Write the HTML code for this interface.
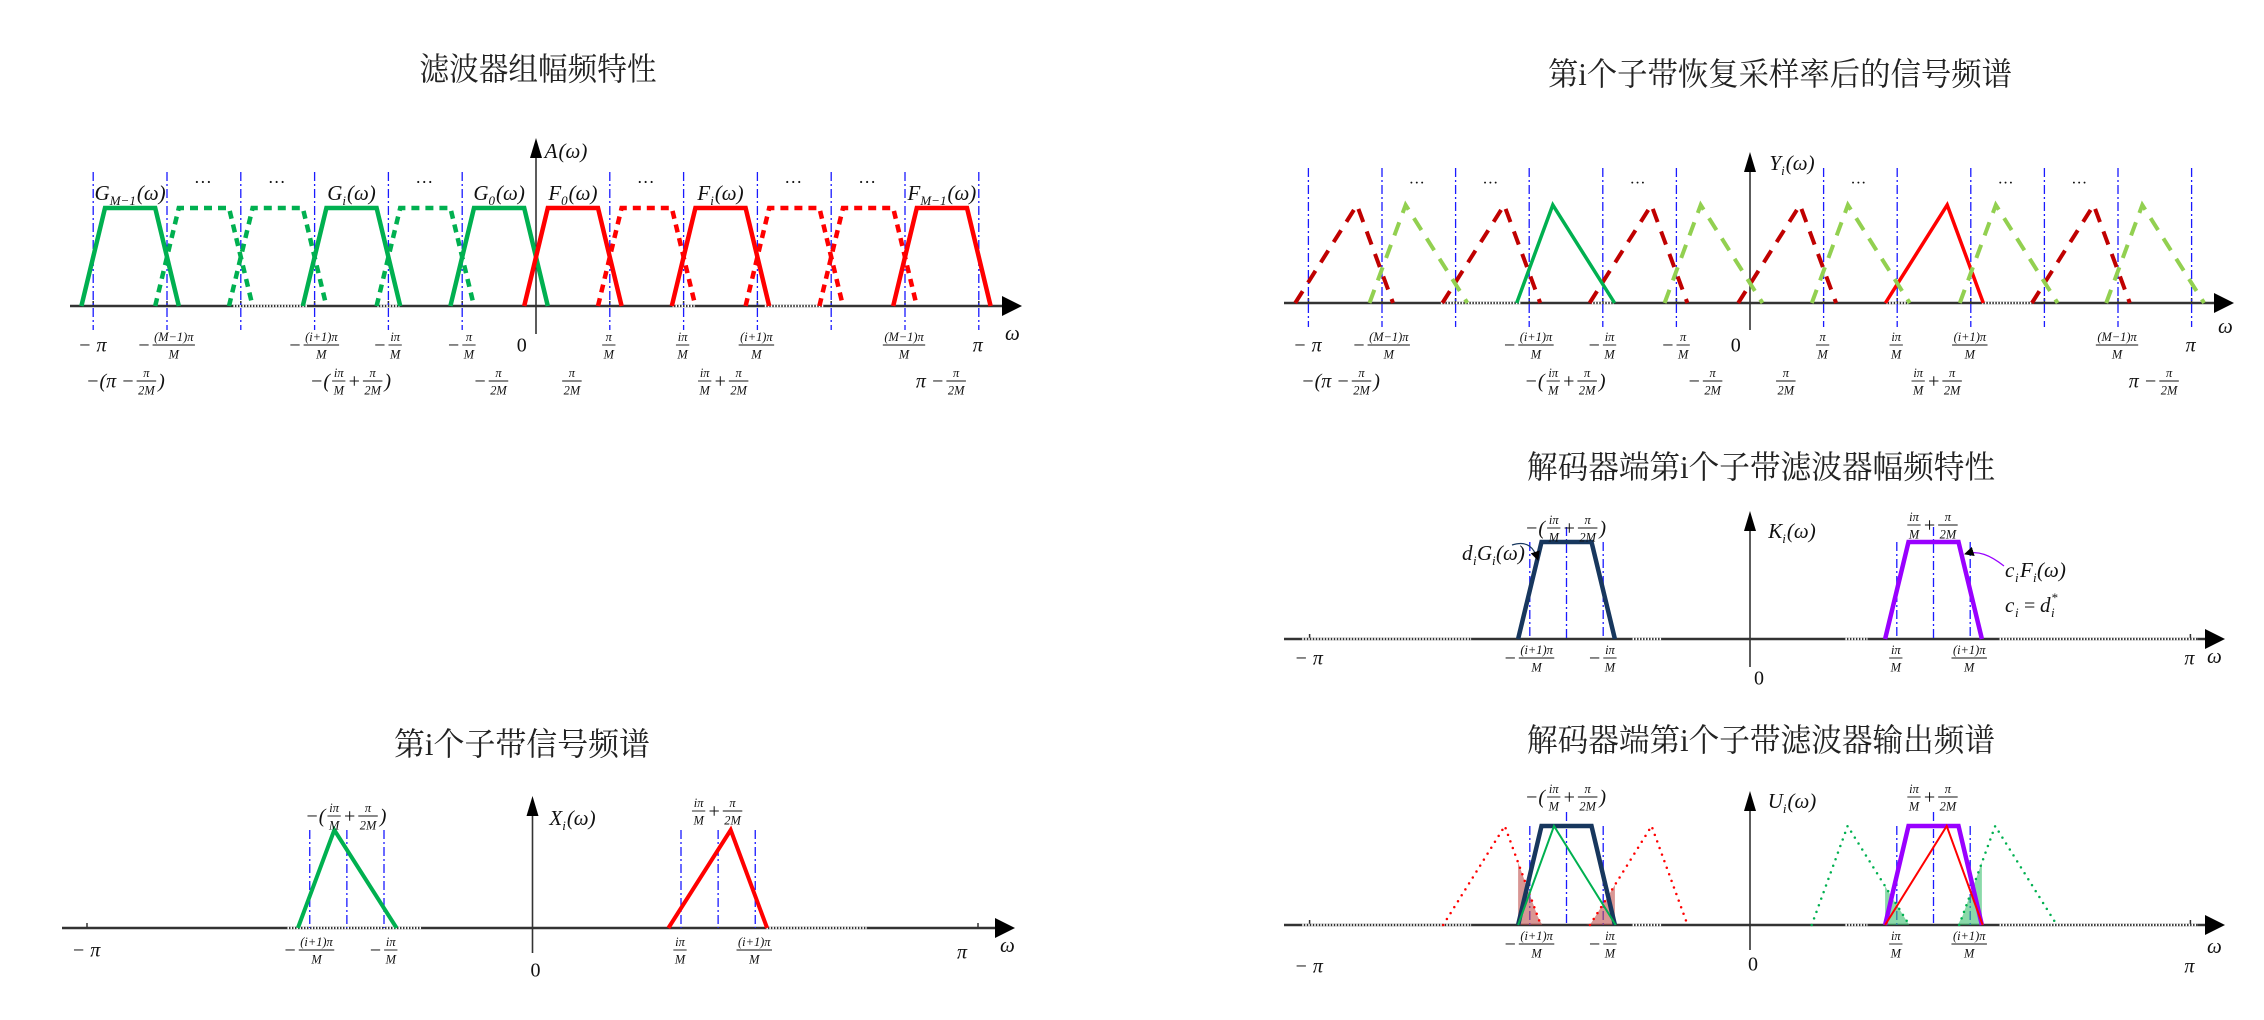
<!DOCTYPE html>
<html><head><meta charset="utf-8"><style>
html,body{margin:0;padding:0;background:#fff;}
svg{display:block;}
.t{font-family:"Liberation Serif","Noto Serif CJK SC",serif;}
.m{font-family:"Liberation Serif",serif;font-style:italic;}
</style></head><body>
<svg id="s" width="2264" height="1020" viewBox="0 0 2264 1020" xmlns="http://www.w3.org/2000/svg">
<defs>
<marker id="ah" viewBox="0 0 10 10" refX="9" refY="5" markerWidth="8" markerHeight="8" orient="auto"><path d="M0,0L10,5L0,10z" fill="#000"/></marker>
</defs>
</svg>
<script>
// ---- data ----
const p1LeftCenters=[-5.5,-4.5,-3.5,-2.5,-1.5,-0.5];
const p1LeftSolid=[1,0,0,1,0,1];
const p1RightCenters=[0.5,1.5,2.5,3.5,4.5,5.5];
const p1RightSolid=[1,0,1,0,0,1];
const p1Dots=[-4.5,-3.5,-1.5,1.5,3.5,4.5];
const p2RedPeaks=[-5.34,-3.34,-1.34,0.68,2.68,4.67];
const p2RedSolid=[0,0,0,0,1,0];
const p2GreenPeaks=[-4.68,-2.68,-0.67,1.33,3.34,5.33];
const p2GreenSolid=[0,1,0,0,0,0];
const p3GreenPeaks=[-2.67];
const p3RedPeaks=[2.67];
const p4TrapCenters=[-2.5,2.5];
const p5RedDotPeaks=[-3.34,-1.34];
const p5GreenDotPeaks=[1.33,3.34];
const trapBottom=0.66, trapTop=0.34, triL=0.84, triR=0.49;

const NS="http://www.w3.org/2000/svg";
const S=document.getElementById('s');
function el(tag,a,p){const e=document.createElementNS(NS,tag);for(const k in a)e.setAttribute(k,a[k]);(p||S).appendChild(e);return e;}
function mk(cx,step,y0,h){return {X:u=>cx+u*step,Y:v=>y0-v*h,cx:cx,step:step,y0:y0};}

function title(x,y,str,len){const t=el('text',{x:x,y:y,'text-anchor':'middle','font-size':32,class:'t',textLength:len,lengthAdjust:'spacingAndGlyphs',fill:'#222'});t.textContent=str;

return t;}

function axes(P,x0,x1,ytop,ybot,ticks){
  const a=el('line',{x1:x0,y1:P.y0,x2:x1-12,y2:P.y0,stroke:'#333','stroke-width':2.5});
  
  
  const ar=el('path',{d:`M${x1},${P.y0}L${x1-20},${P.y0-10}L${x1-20},${P.y0+10}z`,fill:'#000'});
  
  
  const b=el('line',{x1:P.cx,y1:ybot,x2:P.cx,y2:ytop+16,stroke:'#333','stroke-width':1.6});
  
  
  const br=el('path',{d:`M${P.cx},${ytop}L${P.cx-6},${ytop+20}L${P.cx+6},${ytop+20}z`,fill:'#000'});
  
  
  ticks.forEach(u=>{const t=el('line',{x1:P.X(u),y1:P.y0,x2:P.X(u),y2:P.y0-5,stroke:'#333','stroke-width':1.5});
    
    });
}
function dotted(P,u0,u1){const d=el('line',{x1:P.X(u0),y1:P.y0,x2:P.X(u1),y2:P.y0,stroke:'#fff','stroke-width':2.5,'stroke-dasharray':'1.5 1.5'});
  
  }
function vdash(P,u,y1,y2){const l=el('line',{x1:P.X(u),y1:y1,x2:P.X(u),y2:y2,stroke:'#1a1aff','stroke-width':1.3,'stroke-dasharray':'9 3 2 3'});
  
  }
function poly(P,pts,stroke,w,dash,name){const d=pts.map((p,i)=>(i?'L':'M')+P.X(p[0]).toFixed(1)+','+P.Y(p[1]).toFixed(1)).join('');
  const e=el('path',{d:d,fill:'none',stroke:stroke,'stroke-width':w,'stroke-linejoin':'miter','stroke-dasharray':dash||'none','stroke-linecap':dash&&dash.startsWith('0')?'round':'butt'});
  
  return e;}
function trap(c){return [[c-trapBottom,0],[c-trapTop,1],[c+trapTop,1],[c+trapBottom,0]];}
function triR_(p){return [[p-triL,0],[p,1],[p+triR,0]];}
function triG_(p){return [[p-triR,0],[p,1],[p+triL,0]];}

// text helpers
function txt(x,y,s,size,g,italic){const t=el('text',{x:x,y:y,'font-size':size,class:italic===false?'t':'m',fill:'#111'},g);t.textContent=s;return t;}
function label(cx,cy,parts,name,size){
  size=size||20;const g=el('g',{});
  
  
  let x=0;
  parts.forEach(p=>{
    if(p[0]==='t'){const t=txt(x,cy+size*0.33,p[1],size,g,p[2]);x+=t.getComputedTextLength()+2;}
    else if(p[0]==='f'){const fs=size*0.62;
      const a=txt(0,cy-4,p[1],fs,g),b=txt(0,cy+fs+1,p[2],fs,g);
      const wa=a.getComputedTextLength(),wb=b.getComputedTextLength(),w=Math.max(wa,wb)+3;
      a.setAttribute('x',x+(w-wa)/2);b.setAttribute('x',x+(w-wb)/2);
      el('line',{x1:x,y1:cy,x2:x+w,y2:cy,stroke:'#111','stroke-width':0.9},g);x+=w+2;}
  });
  g.setAttribute('transform',`translate(${cx-x/2},0)`);return g;
}
function sub(x,y,main,s,rest,name,size){
  size=size||21;const g=el('g',{});
  
  
  const a=txt(0,y,main,size,g);let w=a.getComputedTextLength();
  const b=txt(w,y+5,s,size*0.62,g);w+=b.getComputedTextLength()+1;
  const c=txt(w,y,rest,size,g);w+=c.getComputedTextLength();
  g.setAttribute('transform',`translate(${x-w/2},0)`);return g;
}
const negPi=[['t','− π']], piT=[['t','π']], zero=[['t','0',false]];
const fr=(n,d,neg)=>neg?[['t','−'],['f',n,d]]:[['f',n,d]];
const row1=[[-6,negPi],[-5,fr('(M−1)π','M',1)],[-3,fr('(i+1)π','M',1)],[-2,fr('iπ','M',1)],[-1,fr('π','M',1)],[-0.18,zero],
  [1,fr('π','M')],[2,fr('iπ','M')],[3,fr('(i+1)π','M')],[5,fr('(M−1)π','M')],[6,piT]];
const row2=[[-5.55,[['t','−(π −'],['f','π','2M'],['t',')']]],[-2.5,[['t','−('],['f','iπ','M'],['t','+'],['f','π','2M'],['t',')']]],
  [-0.6,[['t','−'],['f','π','2M']]],[0.5,[['f','π','2M']]],[2.55,[['f','iπ','M'],['t','+'],['f','π','2M']]],[5.5,[['t','π −'],['f','π','2M']]]];

// ================= Panel 1 =================
title(538,80,'滤波器组幅频特性',237);
{const P=mk(536,73.8,306,98);
 axes(P,70,1022,138,334,[-6,-5,-4,-3,-2,-1,1,2,3,4,5,6]);
 [[-4.1,-3.1],[-2.15,-1.85],[1.85,2.15],[3.1,3.9]].forEach(r=>dotted(P,r[0],r[1]));
 [-6,-5,-4,-3,-2,-1,1,2,3,4,5,6].forEach(u=>vdash(P,u,172,330));
 p1LeftCenters.forEach((c,i)=>poly(P,trap(c),'#00b050',4.5,p1LeftSolid[i]?null:'8 6','g-filter-'+i));
 p1RightCenters.forEach((c,i)=>poly(P,trap(c),'#ff0000',4.5,p1RightSolid[i]?null:'8 6','f-filter-'+i));
 p1Dots.forEach(u=>{const t=txt(P.X(u)-10,188,'···',18,S,false);});
 sub(P.X(-5.5),200,'G','M−1','(ω)','label-g-m-1');
 sub(P.X(-2.5),200,'G','i','(ω)','label-g-i');
 sub(P.X(-0.5),200,'G','0','(ω)','label-g-0');
 sub(P.X(0.5),200,'F','0','(ω)','label-f-0');
 sub(P.X(2.5),200,'F','i','(ω)','label-f-i');
 sub(P.X(5.5),200,'F','M−1','(ω)','label-f-m-1');
 sub(P.cx+30,158,'A','','(ω)','y-axis-title');
 const w=txt(1005,340,'ω',21);
 row1.forEach(r=>label(P.X(r[0]),345,r[1],'x-tick-label'));
 row2.forEach(r=>label(P.X(r[0]),381,r[1],'x-tick-label-2'));
}
// ================= Panel 2 =================
title(1780,85,'第i个子带恢复采样率后的信号频谱',464);
{const P=mk(1750,73.6,303,98);
 axes(P,1284,2234,152,330,[-6,-5,-4,-3,-2,-1,1,2,3,4,5,6]);
 [[-4.2,-3.1],[-2.15,-1.85],[1.85,2.15],[3.15,3.85]].forEach(r=>dotted(P,r[0],r[1]));
 [-6,-5,-4,-3,-2,-1,1,2,3,4,5,6].forEach(u=>vdash(P,u,168,327));
 p2RedPeaks.forEach((p,i)=>poly(P,triR_(p),p2RedSolid[i]?'#ff0000':'#c00000',p2RedSolid[i]?3.5:4,p2RedSolid[i]?null:'14 10','image-red-'+i));
 p2GreenPeaks.forEach((p,i)=>poly(P,triG_(p),p2GreenSolid[i]?'#00b050':'#92d050',p2GreenSolid[i]?3.5:4,p2GreenSolid[i]?null:'14 10','image-green-'+i));
 [-4.5,-3.5,-1.5,1.5,3.5,4.5].forEach(u=>{const t=txt(P.X(u)-10,188,'···',16,S,false);});
 sub(P.cx+42,170,'Y','i','(ω)','y-axis-title');
 const w=txt(2218,333,'ω',21);
 row1.forEach(r=>label(P.X(r[0]),345,r[1],'x-tick-label'));
 row2.forEach(r=>label(P.X(r[0]),381,r[1],'x-tick-label-2'));
}
// ================= Panel 3 =================
title(522,755,'第i个子带信号频谱',256);
{const P=mk(532.5,74.25,928,98);
 axes(P,62,1015,796,953,[-6,6]);
 [[-3.3,-1.5],[3.15,4.5]].forEach(r=>dotted(P,r[0],r[1]));
 [-3,-2.5,-2,2,2.5,3].forEach(u=>vdash(P,u,830,928));
 p3GreenPeaks.forEach((p,i)=>poly(P,triG_(p),'#00b050',4,null,'signal-green'));
 p3RedPeaks.forEach((p,i)=>poly(P,triR_(p),'#ff0000',4,null,'signal-red'));
 sub(P.cx+40,825,'X','i','(ω)','y-axis-title');
 const w=txt(1000,952,'ω',21);
 [[-6,negPi],[-3,fr('(i+1)π','M',1)],[-2,fr('iπ','M',1)],[2,fr('iπ','M')],[3,fr('(i+1)π','M')]].forEach(r=>label(P.X(r[0]),950,r[1],'x-tick-label'));
 label(963,952,piT,'x-tick-label');
 label(P.cx+4,970,zero,'origin-label');
 label(P.X(-2.5),816,[['t','−('],['f','iπ','M'],['t','+'],['f','π','2M'],['t',')']],'peak-label');
 label(P.X(2.5),811,[['f','iπ','M'],['t','+'],['f','π','2M']],'peak-label');
}
// ================= Panel 4 =================
title(1761,478,'解码器端第i个子带滤波器幅频特性',468);
{const P=mk(1750,73.4,639,97);
 axes(P,1284,2225,511,667,[-6,6]);
 [[-6.1,-3.8],[-1.6,-1.2],[1.3,1.6],[3.4,6.1]].forEach(r=>dotted(P,r[0],r[1]));
 [-3,-2,2,3].forEach(u=>vdash(P,u,542,639));
 vdash(P,-2.5,527,639);vdash(P,2.5,527,639);
 poly(P,trap(p4TrapCenters[0]),'#17375e',4.5,null,'decoder-g-filter');
 poly(P,trap(p4TrapCenters[1]),'#9900ff',4.5,null,'decoder-f-filter');
 sub(P.cx+42,538,'K','i','(ω)','y-axis-title');
 const w=txt(2207,663,'ω',21);
 [[-6,negPi],[-3,fr('(i+1)π','M',1)],[-2,fr('iπ','M',1)],[2,fr('iπ','M')],[3,fr('(i+1)π','M')],[6,piT]].forEach(r=>label(P.X(r[0]),658,r[1],'x-tick-label'));
 label(1760,678,zero,'origin-label');
 label(P.X(-2.5),528,[['t','−('],['f','iπ','M'],['t','+'],['f','π','2M'],['t',')']],'peak-label');
 label(P.X(2.5),525,[['f','iπ','M'],['t','+'],['f','π','2M']],'peak-label');
 const g1=el('g',{});
 txt(1462,560,'d',21,g1);txt(1473,565,'i',13,g1);txt(1477,560,'G',21,g1);txt(1492,565,'i',13,g1);txt(1496,560,'(ω)',21,g1);
 el('path',{d:'M1512,545 C1528,540 1534,548 1538,560',fill:'none',stroke:'#17375e','stroke-width':1.2,'marker-end':'url(#ah)'},g1);
 const g2=el('g',{});
 txt(2005,577,'c',21,g2);txt(2015,582,'i',13,g2);txt(2020,577,'F',21,g2);txt(2033,582,'i',13,g2);txt(2037,577,'(ω)',21,g2);
 el('path',{d:'M2004,566 C1990,555 1978,550 1965,554',fill:'none',stroke:'#9900ff','stroke-width':1.2,'marker-end':'url(#ah)'},g2);
 const g3=el('g',{});
 txt(2005,612,'c',21,g3);txt(2015,617,'i',13,g3);txt(2024,612,'=',20,g3,false);txt(2040,612,'d',21,g3);txt(2051,602,'*',13,g3);txt(2051,617,'i',13,g3);
}
// ================= Panel 5 =================
title(1761,751,'解码器端第i个子带滤波器输出频谱',468);
{const P=mk(1750,73.4,925,99);
 axes(P,1284,2225,791,950,[-6,6]);
 [[-6.1,-3.8],[-1.6,-1.2],[1.3,1.6],[3.4,6.1]].forEach(r=>dotted(P,r[0],r[1]));
 [-3,-2,2,3].forEach(u=>vdash(P,u,826,925));
 vdash(P,-2.5,812,925);vdash(P,2.5,812,925);
 function shade(peak,left,lo,hi,color,name){
   const f=x=>{let a=left?peak-triL:peak-triR,b=left?peak+triR:peak+triL; if(x<=a||x>=b)return 0; return x<peak?(x-a)/(peak-a):(b-x)/(b-peak);};
   const pts=[[lo,0]];for(let k=0;k<=20;k++){const x=lo+(hi-lo)*k/20;pts.push([x,f(x)]);}pts.push([hi,0]);
   const d=pts.map((p,i)=>(i?'L':'M')+P.X(p[0]).toFixed(1)+','+P.Y(p[1]).toFixed(1)).join('')+'z';
   const e=el('path',{d:d,fill:color,'fill-opacity':0.6,stroke:'none'});
   
   
 }
 p5RedDotPeaks.forEach((p,i)=>{shade(p,true,-2.5-trapBottom,-2.5+trapBottom,'#c0504d','aliasing-red-'+i);});
 p5GreenDotPeaks.forEach((p,i)=>{shade(p,false,2.5-trapBottom,2.5+trapBottom,'#3cbf6f','aliasing-green-'+i);});
 p5RedDotPeaks.forEach((p,i)=>poly(P,triR_(p),'#ff0000',2.5,'0 7','alias-red-'+i));
 p5GreenDotPeaks.forEach((p,i)=>poly(P,triG_(p),'#00b050',2.5,'0 7','alias-green-'+i));
 poly(P,trap(p4TrapCenters[0]),'#17375e',4.5,null,'decoder-g-filter');
 poly(P,trap(p4TrapCenters[1]),'#9900ff',4.5,null,'decoder-f-filter');
 poly(P,triG_(-2.67),'#00b050',2,null,'output-green');
 poly(P,triR_(2.68),'#ff0000',2,null,'output-red');
 sub(P.cx+42,808,'U','i','(ω)','y-axis-title');
 const w=txt(2207,953,'ω',21);
 [[-3,fr('(i+1)π','M',1)],[-2,fr('iπ','M',1)],[2,fr('iπ','M')],[3,fr('(i+1)π','M')]].forEach(r=>label(P.X(r[0]),944,r[1],'x-tick-label'));
 label(P.X(-6),966,negPi,'x-tick-label');label(P.X(6),966,piT,'x-tick-label');
 label(1754,964,zero,'origin-label');
 label(P.X(-2.5),797,[['t','−('],['f','iπ','M'],['t','+'],['f','π','2M'],['t',')']],'peak-label');
 label(P.X(2.5),797,[['f','iπ','M'],['t','+'],['f','π','2M']],'peak-label');
}
</script>
</body></html>
